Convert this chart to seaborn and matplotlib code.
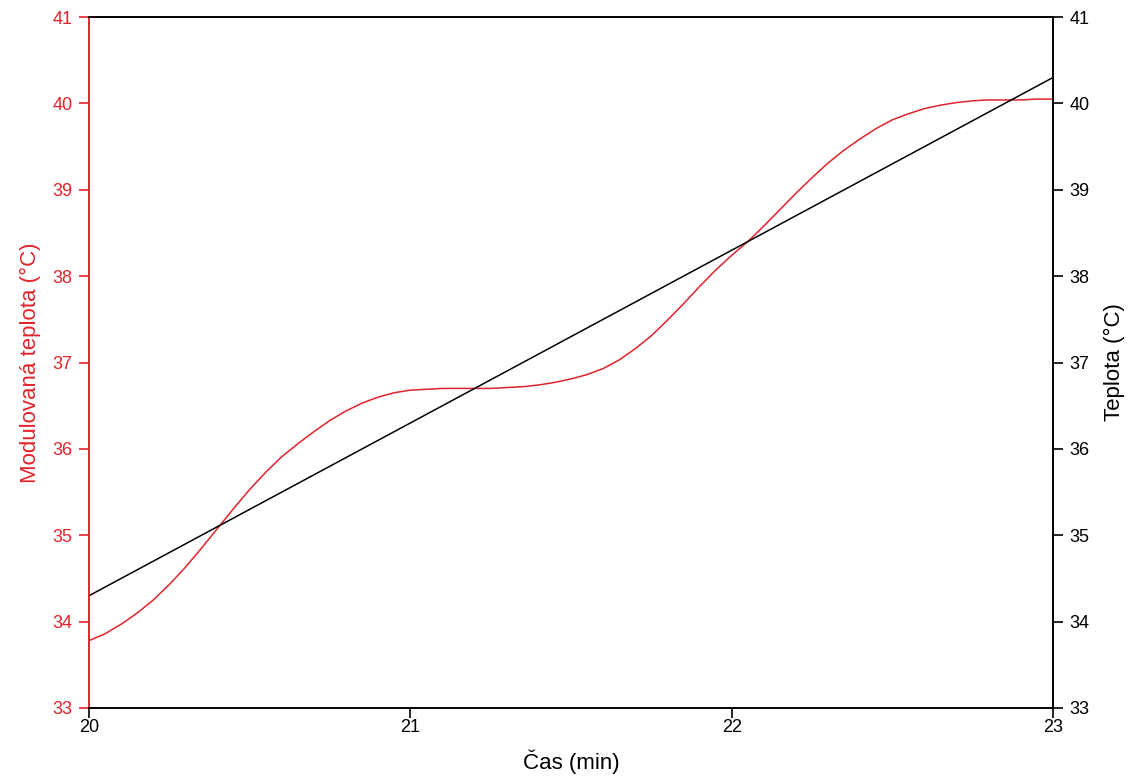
import pandas as pd
import matplotlib
matplotlib.use("Agg")
import matplotlib.pyplot as plt
import seaborn as sns

# Data
time_red = [20.00, 20.05, 20.10, 20.15, 20.20, 20.25, 20.30, 20.35, 20.40, 20.45,
            20.50, 20.55, 20.60, 20.65, 20.70, 20.75, 20.80, 20.85, 20.90, 20.95,
            21.00, 21.05, 21.10, 21.15, 21.20, 21.25, 21.30, 21.35, 21.40, 21.45,
            21.50, 21.55, 21.60, 21.65, 21.70, 21.75, 21.80, 21.85, 21.90, 21.95,
            22.00, 22.05, 22.10, 22.15, 22.20, 22.25, 22.30, 22.35, 22.40, 22.45,
            22.50, 22.55, 22.60, 22.65, 22.70, 22.75, 22.80, 22.85, 22.90, 22.95,
            23.00]
mod_temp = [33.78, 33.86, 33.97, 34.10, 34.25, 34.43, 34.63, 34.85, 35.08, 35.31,
            35.53, 35.73, 35.91, 36.06, 36.20, 36.33, 36.44, 36.53, 36.60, 36.65,
            36.68, 36.69, 36.70, 36.70, 36.70, 36.70, 36.71, 36.72, 36.74, 36.77,
            36.81, 36.86, 36.93, 37.03, 37.16, 37.31, 37.49, 37.68, 37.88, 38.07,
            38.24, 38.40, 38.58, 38.77, 38.96, 39.14, 39.31, 39.46, 39.59, 39.71,
            39.81, 39.88, 39.94, 39.98, 40.01, 40.03, 40.04, 40.04, 40.04, 40.05,
            40.05]
time_black = [20.0, 23.0]
temp = [34.3, 40.3]

red = "#e0242c"
df_red = pd.DataFrame({"t": time_red, "v": mod_temp})
df_blk = pd.DataFrame({"t": time_black, "v": temp})

sns.set_style("ticks")
plt.rcParams["font.family"] = ["Liberation Sans", "DejaVu Sans"]

fig = plt.figure(figsize=(11.33, 7.78), dpi=100)
ax = fig.add_axes([0.0786, 0.090, 0.8508, 0.8881])
ax2 = ax.twinx()

sns.lineplot(data=df_red, x="t", y="v", ax=ax, color=red, linewidth=1.1)
sns.lineplot(data=df_blk, x="t", y="v", ax=ax2, color="black", linewidth=1.1)

ax.set_xlim(20, 23)
ax.set_ylim(33, 41)
ax2.set_ylim(33, 41)
ax.set_xticks([20, 21, 22, 23])
ax.set_yticks(range(33, 42))
ax2.set_yticks(range(33, 42))

ax.set_xlabel("Čas (min)", fontsize=16, color="black", labelpad=10)
ax.set_ylabel("Modulovaná teplota (°C)", fontsize=16, color=red, labelpad=8)
ax2.set_ylabel("Teplota (°C)", fontsize=16, color="black", labelpad=10)

for a in (ax, ax2):
    for s in a.spines.values():
        s.set_linewidth(1.2)
        s.set_color("black")
        s.set_visible(True)
ax.spines["left"].set_color(red)
ax2.spines["left"].set_color(red)

ax.tick_params(axis="x", labelsize=13, length=7, width=1.2, color="black", labelcolor="black", pad=1)
ax.tick_params(axis="y", labelsize=13, length=7, width=1.2, color=red, labelcolor=red, pad=5)
ax2.tick_params(axis="y", labelsize=13, length=7, width=1.2, color="black", labelcolor="black", pad=5)

fig.savefig("out.png", dpi=100)
